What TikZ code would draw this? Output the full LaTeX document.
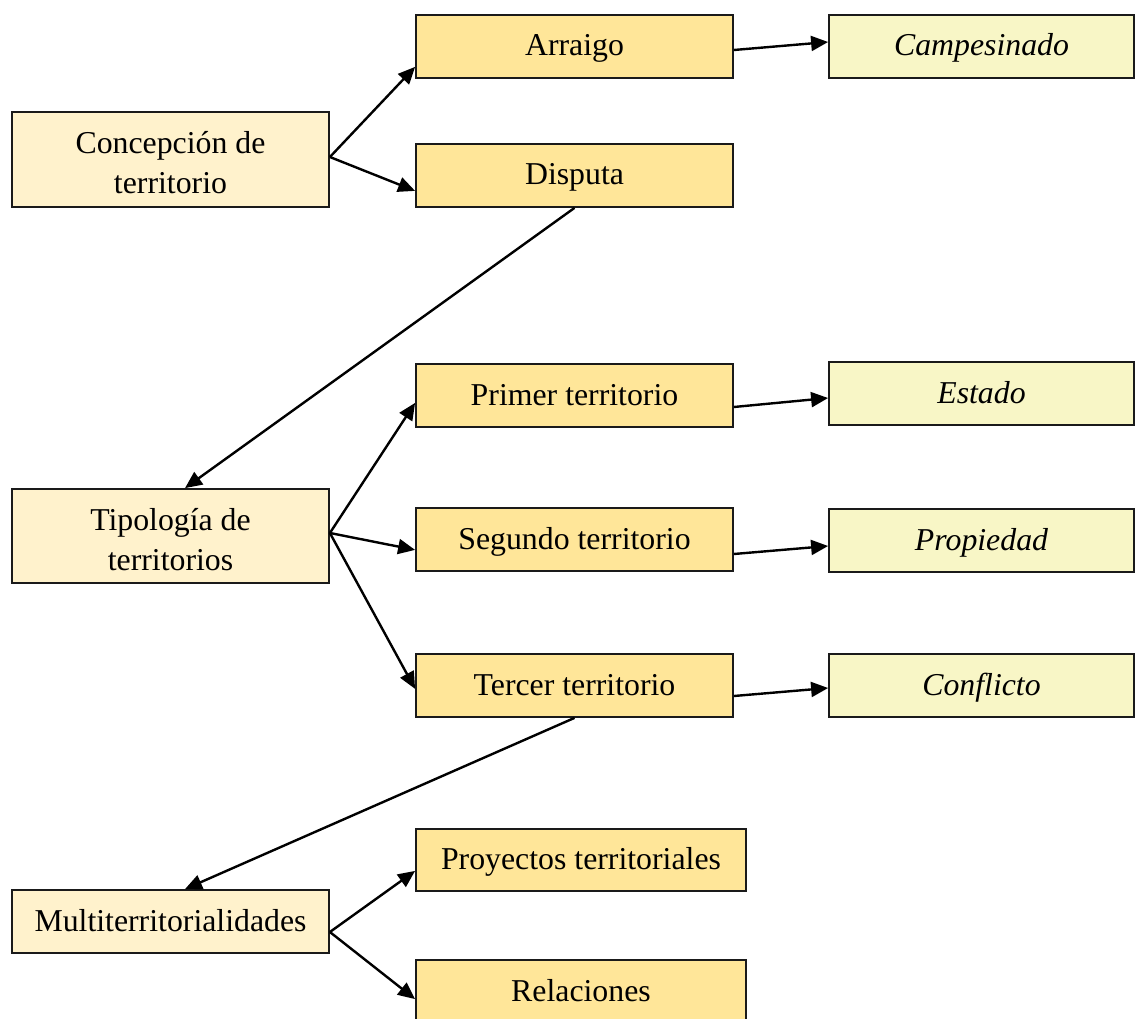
\documentclass[tikz,border=0pt]{standalone}
\usepackage{fontspec}
\setmainfont{Liberation Serif}
\usetikzlibrary{arrows.meta}
\definecolor{leftfill}{HTML}{FFF2CC}
\definecolor{midfill}{HTML}{FFE699}
\definecolor{rightfill}{HTML}{F8F6C6}
\definecolor{edge}{HTML}{1A1A1A}
\newcommand{\twolines}[2]{\begin{tabular}[b]{@{}c@{}}#1\\#2\end{tabular}}
\begin{document}
\begin{tikzpicture}[x=1pt,y=-1pt,
  box/.style={draw=edge, line width=1.8pt, inner sep=0pt,
    font=\fontsize{31.8}{40}\selectfont, text height=25pt, text depth=6pt},
  twoline/.style={text height=74pt, text depth=6pt},
  leftbox/.style={box, fill=leftfill, minimum width=317pt},
  midbox/.style={box, fill=midfill, minimum width=317pt, minimum height=63pt},
  rightbox/.style={box, fill=rightfill, minimum width=305pt, minimum height=63pt, font=\fontsize{31.8}{40}\selectfont\itshape},
  conn/.style={-{Triangle[length=17pt,width=15pt]}, line width=2.4pt, black}]
\useasboundingbox (0,0) rectangle (1135,1019);
\clip (0,0) rectangle (1135,1019);
% left column
\node[leftbox, twoline, minimum height=95pt] (conc) at (170.5,159.5) {\twolines{Concepción de}{territorio}};
\node[leftbox, twoline, minimum height=94pt] (tipo) at (170.5,536) {\twolines{Tipología de}{territorios}};
\node[leftbox, minimum height=63pt] (multi) at (170.5,921.5) {Multiterritorialidades};
% middle column
\node[midbox] (arr) at (574.5,46.5) {Arraigo};
\node[midbox] (disp) at (574.5,175.5) {Disputa};
\node[midbox] (prim) at (574.5,395.5) {Primer territorio};
\node[midbox] (seg) at (574.5,539.5) {Segundo territorio};
\node[midbox] (ter) at (574.5,685.5) {Tercer territorio};
\node[midbox, minimum width=330pt, minimum height=62pt] (proy) at (581,860) {Proyectos territoriales};
\node[midbox, minimum width=330pt] (rel) at (581,991.5) {Relaciones};
% right column
\node[rightbox] (camp) at (981.5,46.5) {Campesinado};
\node[rightbox] (est) at (981.5,393.5) {Estado};
\node[rightbox] (prop) at (981.5,540.5) {Propiedad};
\node[rightbox] (conf) at (981.5,685.5) {Conflicto};
% connectors
\draw[conn] ([yshift=2.5pt]conc.east) -- ([yshift=12pt]arr.south west);
\draw[conn] ([yshift=2.5pt]conc.east) -- ([yshift=17pt]disp.south west);
\draw[conn] ([yshift=-3.5pt]arr.east) -- ([yshift=4.5pt]camp.west);
\draw[conn] (disp.south) -- ([xshift=14.5pt]tipo.north);
\draw[conn] ([yshift=3pt]tipo.east) -- ([yshift=25pt]prim.south west);
\draw[conn] ([yshift=3pt]tipo.east) -- ([yshift=22pt]seg.south west);
\draw[conn] ([yshift=3pt]tipo.east) -- ([yshift=29pt]ter.south west);
\draw[conn] ([yshift=-11.5pt]prim.east) -- ([yshift=-4.5pt]est.west);
\draw[conn] ([yshift=-14.5pt]seg.east) -- ([yshift=-5.5pt]prop.west);
\draw[conn] ([yshift=-10.5pt]ter.east) -- ([yshift=-2.5pt]conf.west);
\draw[conn] (ter.south) -- ([xshift=14.5pt]multi.north);
\draw[conn] ([yshift=-10.5pt]multi.east) -- ([yshift=21pt]proy.south west);
\draw[conn] ([yshift=-10.5pt]multi.east) -- ([yshift=-40pt]rel.north west);
\end{tikzpicture}
\end{document}
